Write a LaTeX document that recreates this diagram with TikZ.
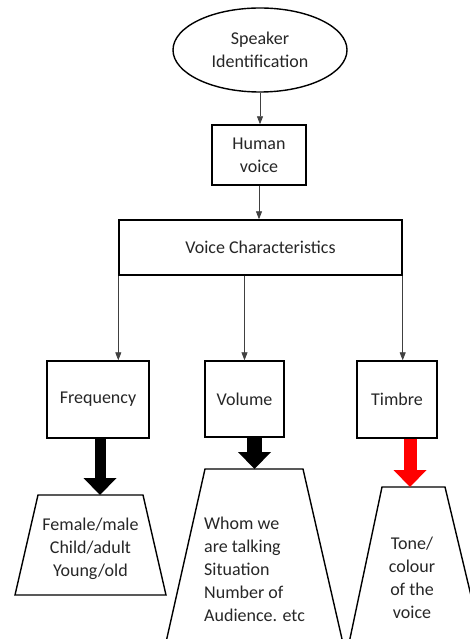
\documentclass[tikz,border=0pt]{standalone}
\usepackage{fontspec}
\setmainfont{Carlito}
\usetikzlibrary{shapes.geometric,arrows.meta}
\tikzset{
  box/.style={draw, line width=1.4pt, fill=white, inner sep=0pt, align=center},
  link/.style={-{Triangle[width=6pt,length=8pt]}, line width=0.8pt, draw=black!75, fill=black!75},
  bigarrow/.style={line width=#1, -{Triangle[width=33pt,length=17pt,line width=0pt]}},
  trap/.style={line width=1.4pt, line join=miter},
  txt/.style={align=center, inner sep=0pt}
}

\begin{document}
\begin{tikzpicture}[x=1pt, y=-1pt, font=\fontsize{18}{23}\selectfont, text=black!85]
  \useasboundingbox (0,0) rectangle (470,639);
  \clip (0,0) rectangle (470,639);

  \node[box, ellipse, minimum width=174pt, minimum height=84pt] (spk) at (260,50) {Speaker\\Identification};
  \node[box, minimum width=94pt, minimum height=60pt] (human) at (259,155) {Human\\voice};
  \node[box, minimum width=283pt, minimum height=55pt] (vc) at (260.5,247.5) {Voice Characteristics};

  \node[box, minimum width=102pt, minimum height=77pt] (freq) at (98,399.5) {Frequency};
  \node[box, minimum width=79pt, minimum height=76pt] (vol) at (244.5,399) {Volume};
  \node[box, minimum width=80pt, minimum height=77pt] (tim) at (397,399.5) {Timbre};

  \draw[link] (spk.south) -- (spk.south |- human.north); %% speaker->human
  \draw[link] (human.south) -- (human.south |- vc.north); %% human->vc
  \draw[link] (vc.south west) -- (vc.south west |- freq.north);
  \draw[link] (vc.south -| vol.north) -- (vol.north);
  \draw[link] (vc.south east) -- (vc.south east |- tim.north);

  %% trapezoids
  \coordinate (f1) at (38,495);  \coordinate (f2) at (143,495);
  \coordinate (f3) at (166,595); \coordinate (f4) at (15,595);
  \draw[trap] (f1) -- (f2) -- (f3) -- (f4) -- cycle;
  \node[txt] (fnote) at (90.5,549) {Female/male\\Child/adult\\Young/old};

  \coordinate (v1) at (205,469); \coordinate (v2) at (303,469);
  \coordinate (v3) at (356,700); \coordinate (v4) at (153,700);
  \draw[trap] (v1) -- (v2) -- (v3) -- (v4) -- cycle;
  \node[txt, align=left, anchor=west] (vnote) at (204,569) {Whom we\\are talking\\Situation\\Number of\\Audience. etc};

  \coordinate (t1) at (382,487); \coordinate (t2) at (445,487);
  \coordinate (t3) at (496,700); \coordinate (t4) at (337,700);
  \draw[trap] (t1) -- (t2) -- (t3) -- (t4) -- cycle;
  \node[txt] (tnote) at (412,578) {Tone/\\colour\\of the\\voice};

  %% block arrows
  \coordinate (ftip) at (100,495);
  \coordinate (vtip) at (254.5,469);
  \coordinate (ttip) at (410,487);
  \draw[bigarrow=11pt] (freq.south -| ftip) -- (ftip);
  \draw[bigarrow=15pt] (vol.south -| vtip) -- (vtip);
  \draw[bigarrow=13pt, red] (tim.south -| ttip) -- (ttip);
\end{tikzpicture}
\end{document}
